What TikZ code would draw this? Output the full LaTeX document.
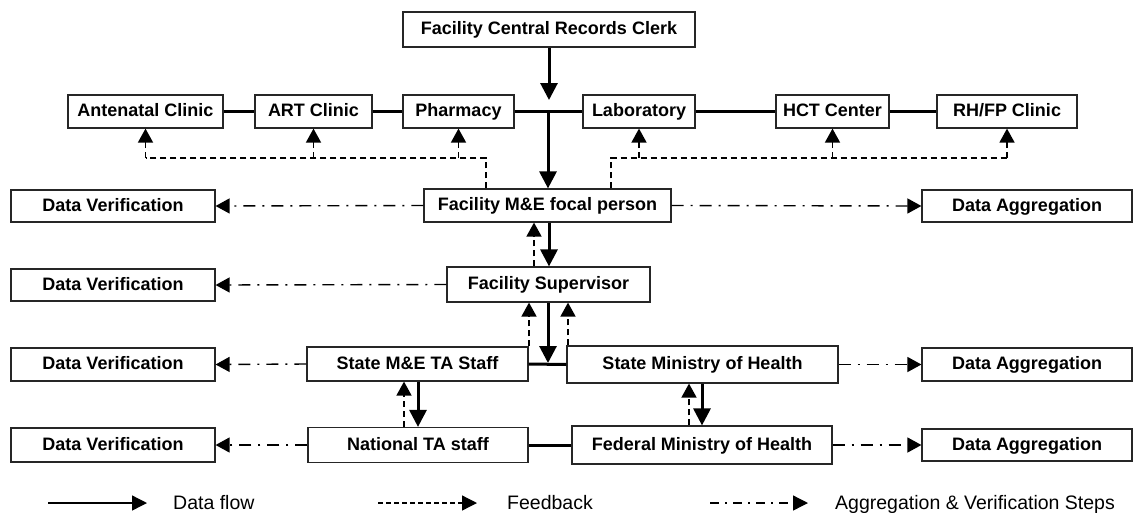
\documentclass[tikz,border=0pt]{standalone}
\usepackage{fontspec}
\setmainfont{Liberation Sans}
\usetikzlibrary{arrows.meta}
\begin{document}
\begin{tikzpicture}[x=1pt,y=-1pt]
\tikzset{
 box/.style={draw=black!85, line width=1.2pt, inner sep=0pt, text height=13pt, text depth=3pt, font=\bfseries\fontsize{18}{20}\selectfont},
 solidln/.style={line width=3pt},
 flow/.style={line width=3pt, -{Triangle[width=17pt,length=17pt]}},
 fbd/.style={line width=1.6pt, dash pattern=on 6pt off 4pt},
 fb/.style={fbd, -{Triangle[width=15pt,length=14pt]}},
 agg/.style={line width=1.4pt, dash pattern=on 12pt off 7pt on 2pt off 7pt, -{Triangle[width=15pt,length=14pt]}},
 legtext/.style={font=\fontsize{19.5}{22}\selectfont, anchor=base west, inner sep=0pt},
}
\fill[white] (0,0) rectangle (1137,512);
\useasboundingbox (0,0) rectangle (1137,512);

% boxes
\node[box, minimum width=292pt, minimum height=35pt] (clerk) at (549,29.5) {Facility Central Records Clerk};
\node[box, minimum width=155pt, minimum height=33pt] (ant) at (145.5,111.5) {Antenatal Clinic};
\node[box, minimum width=117pt, minimum height=33pt] (art) at (313.5,111.5) {ART Clinic};
\node[box, minimum width=111pt, minimum height=33pt] (pha) at (458.5,111.5) {Pharmacy};
\node[box, minimum width=112pt, minimum height=33pt] (lab) at (639,111.5) {Laboratory};
\node[box, minimum width=113pt, minimum height=33pt] (hct) at (832.5,111.5) {HCT Center};
\node[box, minimum width=140pt, minimum height=33pt] (rh) at (1007,111.5) {RH/FP Clinic};

\node[box, minimum width=204pt, minimum height=32pt] (dv1) at (113,206) {Data Verification};
\node[box, minimum width=247pt, minimum height=33pt] (me) at (547.5,205.5) {Facility M\&E focal person};
\node[box, minimum width=210pt, minimum height=32pt] (da1) at (1027,206) {Data Aggregation};

\node[box, minimum width=204pt, minimum height=32pt] (dv2) at (113,285) {Data Verification};
\node[box, minimum width=203pt, minimum height=35pt] (sup) at (548.5,284.5) {Facility Supervisor};

\node[box, minimum width=204pt, minimum height=33pt] (dv3) at (113,364.5) {Data Verification};
\node[box, minimum width=221pt, minimum height=34pt] (stme) at (417.5,364) {State M\&E TA Staff};
\node[box, minimum width=271pt, minimum height=37pt] (smoh) at (702.5,364.5) {State Ministry of Health};
\node[box, minimum width=210pt, minimum height=33pt] (da2) at (1027,364.5) {Data Aggregation};

\node[box, minimum width=204pt, minimum height=34pt] (dv4) at (113,445) {Data Verification};
\node[box, minimum width=220pt, minimum height=35pt] (nat) at (418,445) {National TA staff};
\node[box, minimum width=260pt, minimum height=38pt] (fmoh) at (702,445) {Federal Ministry of Health};
\node[box, minimum width=210pt, minimum height=32pt] (da3) at (1027,445) {Data Aggregation};

% top data flow
\coordinate (tipA) at (549,100);
\coordinate (jA) at (548,112);
\draw[flow] (clerk.south) -- (tipA);
\draw[solidln] (ant) -- (art);
\draw[solidln] (art) -- (pha);
\draw[solidln] (pha) -- (lab);
\draw[solidln] (lab) -- (hct);
\draw[solidln] (hct) -- (rh);
\draw[flow] (jA) -- (jA |- me.north);

% feedback to units
\coordinate (fbL) at (486,158);
\coordinate (fbR) at (611,158);
\draw[fbd] (fbL |- me.north) -- (fbL) -- (fbL -| ant.south);
\draw[fb] (fbL -| ant.south) -- (ant.south);
\draw[fb] (fbL -| art.south) -- (art.south);
\draw[fb] (fbL -| pha.south) -- (pha.south);
\draw[fbd] (fbR |- me.north) -- (fbR) -- (fbR -| rh.south);
\draw[fb] (fbR -| lab.south) -- (lab.south);
\draw[fb] (fbR -| hct.south) -- (hct.south);
\draw[fb] (fbR -| rh.south) -- (rh.south);

% aggregation / verification
\draw[agg] (me.west) -- (dv1.east);
\draw[agg] (me.east) -- (da1.west);
\draw[agg] (sup.west) -- (dv2.east);
\draw[agg] (stme.west) -- (dv3.east);
\draw[agg] (smoh.east) -- (da2.west);
\draw[agg] (nat.west) -- (dv4.east);
\draw[agg] (fmoh.east) -- (da3.west);

% M&E -> supervisor
\coordinate (xa) at (549,0);
\coordinate (xb) at (534,0);
\draw[flow] (xa |- me.south) -- (xa |- sup.north);
\draw[fb] (xb |- sup.north) -- (xb |- me.south);

% supervisor -> state level
\coordinate (jB) at (548,363);
\coordinate (xc) at (529,0);
\coordinate (xd) at (568,0);
\draw[solidln] (stme.east) -- (smoh.west);
\draw[flow] (jB |- sup.south) -- (jB);
\draw[fb] (xc |- stme.north) -- (xc |- sup.south);
\draw[fb] (xd |- smoh.north) -- (xd |- sup.south);

% state -> national
\coordinate (xe) at (418,0);
\coordinate (xf) at (404,0);
\draw[flow] (xe |- stme.south) -- (xe |- nat.north);
\draw[fb] (xf |- nat.north) -- (xf |- stme.south);
\draw[solidln] (nat.east) -- (fmoh.west);
\coordinate (xg) at (702,0);
\coordinate (xh) at (689,0);
\draw[flow] (xg |- smoh.south) -- (xg |- fmoh.north);
\draw[fb] (xh |- fmoh.north) -- (xh |- smoh.south);

% legend
\coordinate (L1a) at (48,503);
\coordinate (L1b) at (147,503);
\draw[line width=1.4pt, -{Triangle[width=15pt,length=15pt]}] (L1a) -- (L1b);
\node[legtext] (Lt1) at (173,509) {Data flow};
\coordinate (L2a) at (378,503);
\coordinate (L2b) at (477,503);
\draw[line width=1.3pt, dash pattern=on 5pt off 3pt, -{Triangle[width=15pt,length=15pt]}] (L2a) -- (L2b);
\node[legtext] (Lt2) at (507,509) {Feedback};
\coordinate (L3a) at (710,503);
\coordinate (L3b) at (808,503);
\draw[line width=1.3pt, dash pattern=on 9pt off 6pt on 2pt off 6pt, -{Triangle[width=15pt,length=15pt]}] (L3a) -- (L3b);
\node[legtext] (Lt3) at (835,509) {Aggregation \& Verification Steps};
\end{tikzpicture}
\end{document}
